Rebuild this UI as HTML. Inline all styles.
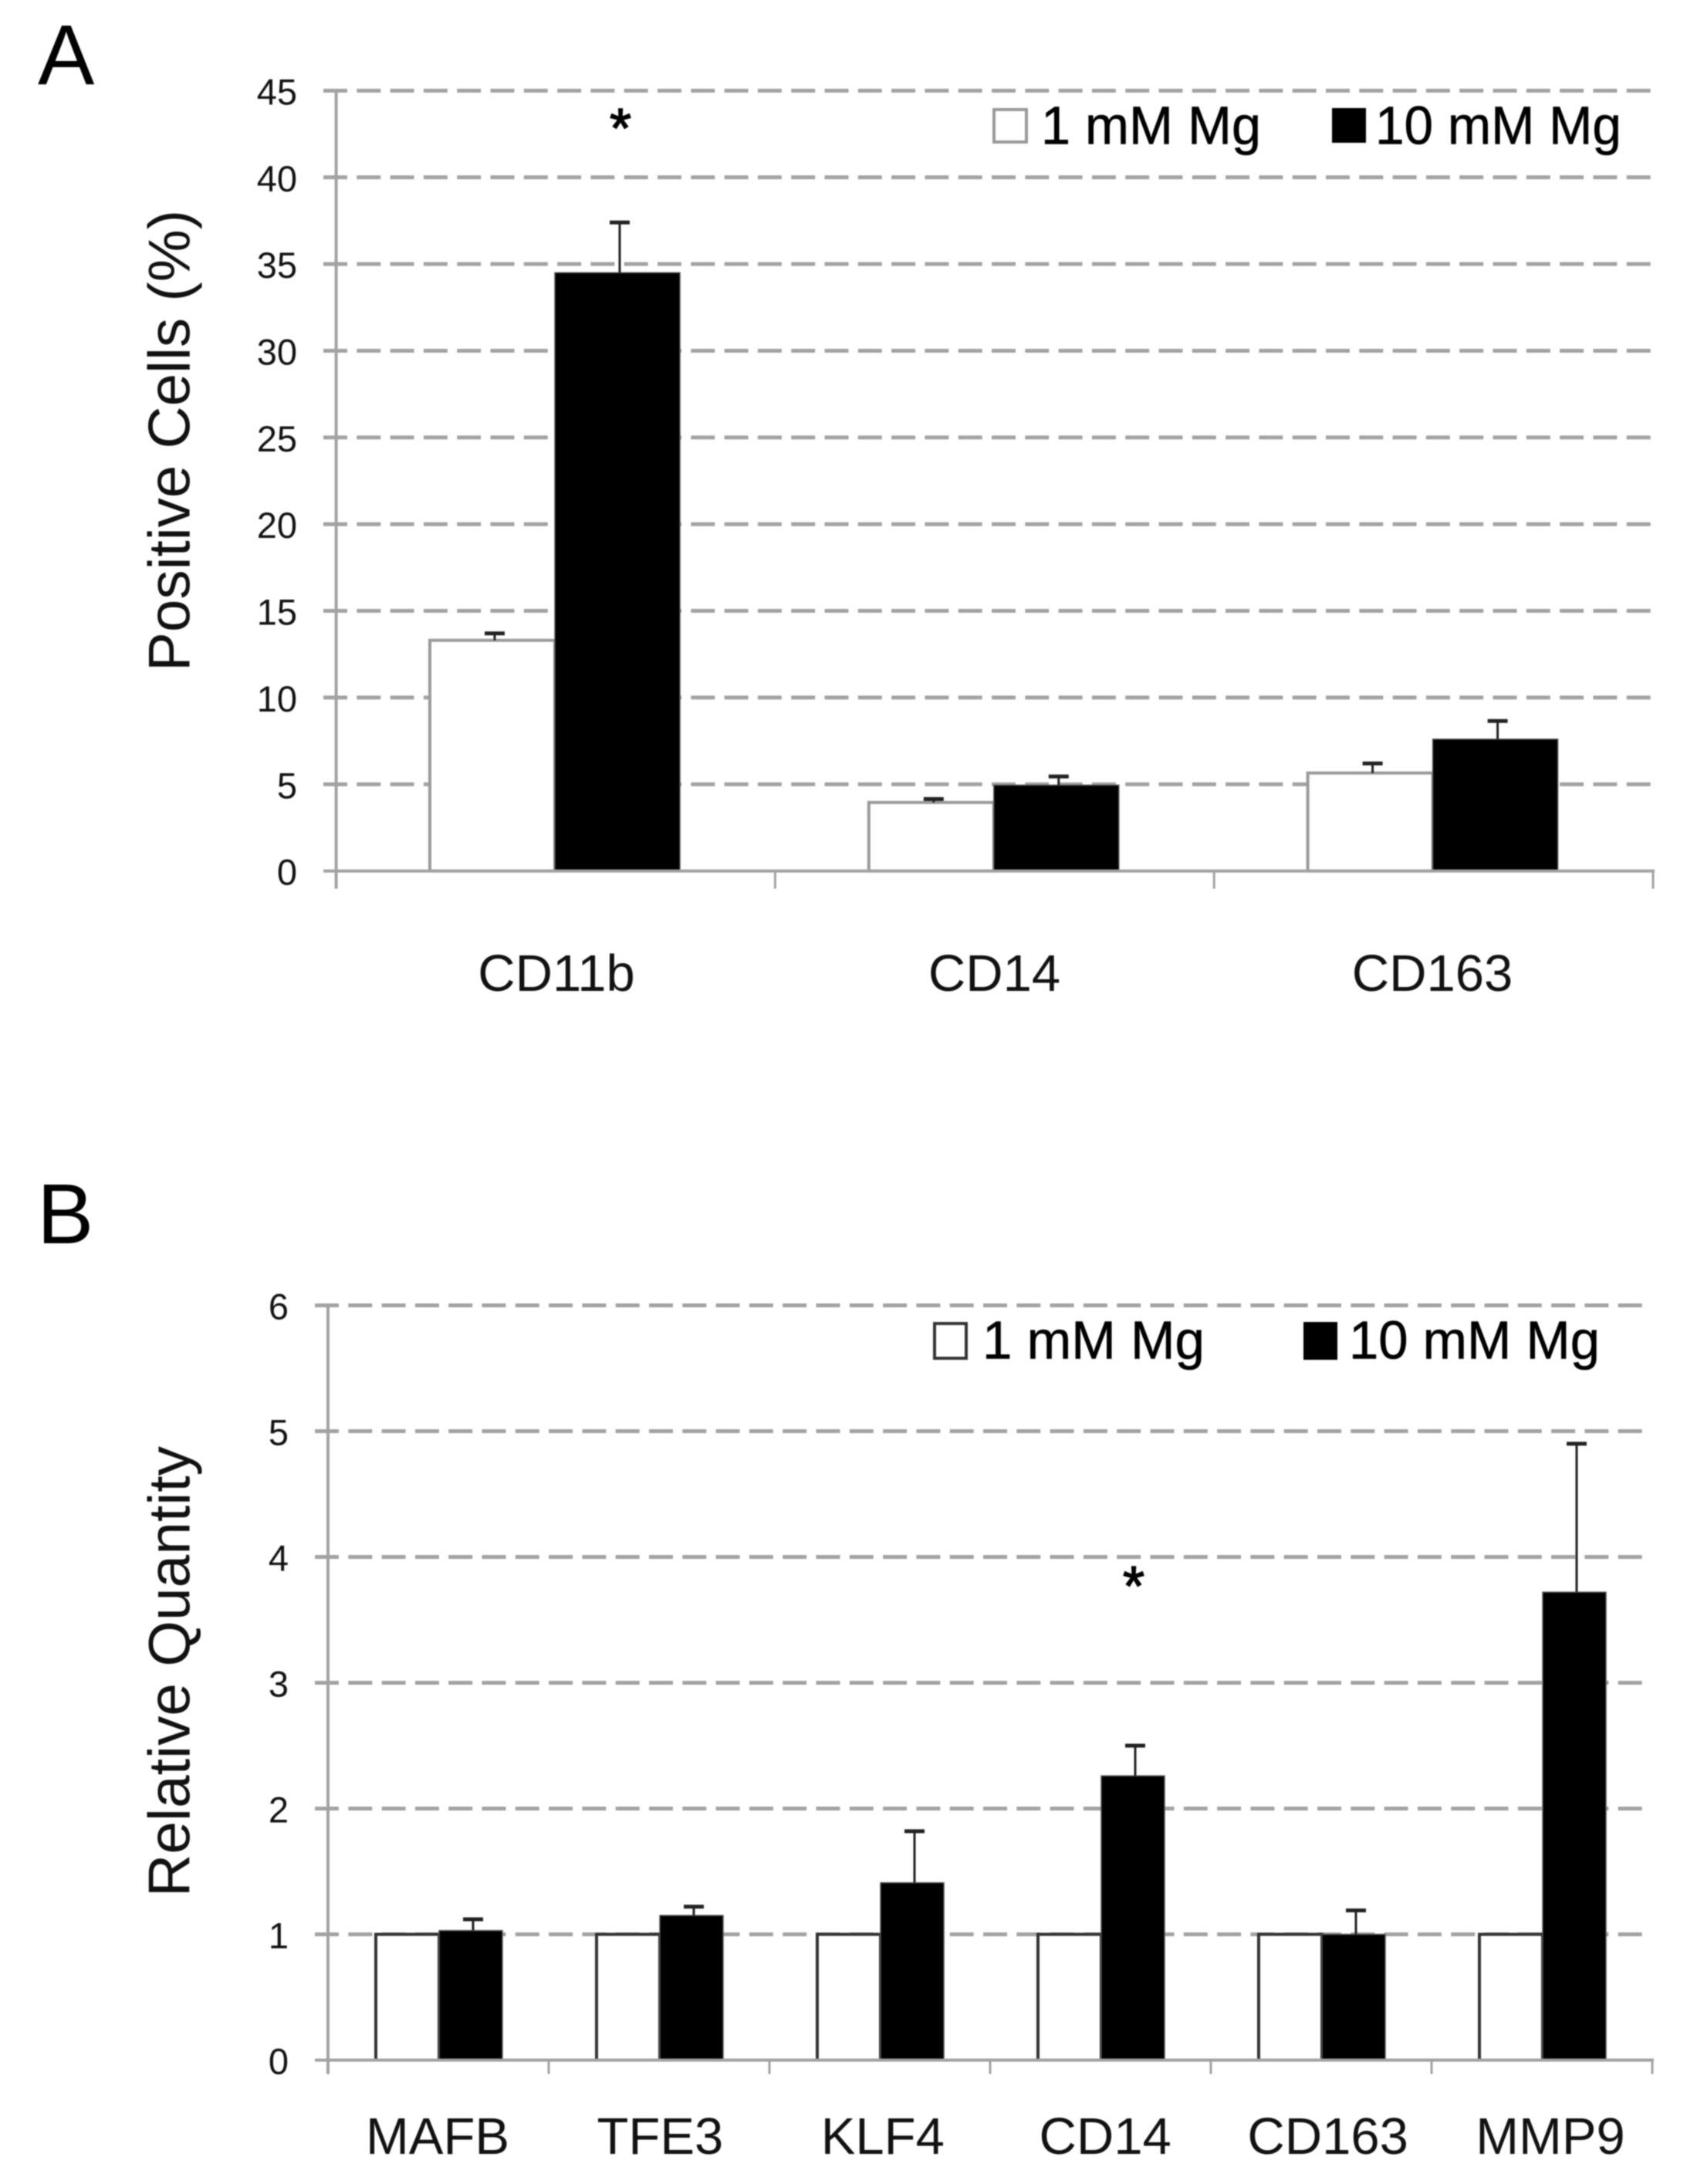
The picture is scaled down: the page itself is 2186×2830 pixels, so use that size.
<!DOCTYPE html>
<html lang="en">
<head>
<meta charset="utf-8">
<title>Positive cells and relative quantity at 1 mM and 10 mM Mg</title>
<style>
html,body{margin:0;padding:0;background:#fff;}
svg{display:block;font-family:"Liberation Sans",Arial,sans-serif;filter:blur(0.8px);}
</style>
</head>
<body>
<svg id="figure" xmlns="http://www.w3.org/2000/svg" width="2186" height="2830" viewBox="0 0 2186 2830">
  <rect width="2186" height="2830" fill="#fff"/>
  <g id="chart-a"></g>
  <g id="chart-b"></g>

  <text x="49" y="109" font-size="110" fill="#000">A</text>
  <text transform="translate(245.5 870) rotate(-90)" font-size="76" fill="#111" textLength="598" lengthAdjust="spacingAndGlyphs">Positive Cells (%)</text>
  <text x="804" y="191" font-size="72" fill="#000" stroke="#000" stroke-width="1.5" text-anchor="middle">*</text>
  <rect x="1288" y="142" width="42" height="42" fill="#fff" stroke="#999" stroke-width="4"/>
  <text x="1349" y="186.5" font-size="70" fill="#000" stroke="#000" stroke-width="0.6" textLength="285" lengthAdjust="spacingAndGlyphs">1 mM Mg</text>
  <rect x="1726" y="140" width="44" height="45" fill="#000"/>
  <text x="1782" y="186.5" font-size="70" fill="#000" stroke="#000" stroke-width="0.6" textLength="319" lengthAdjust="spacingAndGlyphs">10 mM Mg</text>

  <text x="48" y="1611" font-size="110" fill="#000">B</text>
  <text transform="translate(245.5 2458) rotate(-90)" font-size="76" fill="#111" textLength="584" lengthAdjust="spacingAndGlyphs">Relative Quantity</text>
  <text x="1469" y="2080" font-size="72" fill="#000" stroke="#000" stroke-width="1.5" text-anchor="middle">*</text>
  <rect x="1211" y="1715" width="41" height="45" fill="#fff" stroke="#333" stroke-width="4"/>
  <text x="1273" y="1760.5" font-size="70" fill="#000" stroke="#000" stroke-width="0.6" textLength="288" lengthAdjust="spacingAndGlyphs">1 mM Mg</text>
  <rect x="1689" y="1713" width="44" height="49" fill="#000"/>
  <text x="1748" y="1760.5" font-size="70" fill="#000" stroke="#000" stroke-width="0.6" textLength="325" lengthAdjust="spacingAndGlyphs">10 mM Mg</text>
</svg>

<script>
/* Panel A values */
const aCategories = ['CD11b', 'CD14', 'CD163'];
const aLowValues = [13.3, 3.95, 5.65];
const aHighValues = [34.5, 4.95, 7.6];
const aLowErrors = [0.4, 0.2, 0.55];
const aHighErrors = [2.9, 0.5, 1.05];
const aTickValues = [0, 5, 10, 15, 20, 25, 30, 35, 40, 45];

/* Panel B values */
const bCategories = ['MAFB', 'TFE3', 'KLF4', 'CD14', 'CD163', 'MMP9'];
const bLowValues = [1, 1, 1, 1, 1, 1];
const bHighValues = [1.03, 1.15, 1.41, 2.26, 1, 3.72];
const bLowErrors = [0, 0, 0, 0, 0, 0];
const bHighErrors = [0.09, 0.07, 0.41, 0.24, 0.19, 1.18];
const bTickValues = [0, 1, 2, 3, 4, 5, 6];

const SVG_NS = 'http://www.w3.org/2000/svg';

function makeShape(parent, tag, attrs) {
  const el = document.createElementNS(SVG_NS, tag);
  for (const key in attrs) {
    el.setAttribute(key, attrs[key]);
  }
  parent.appendChild(el);
  return el;
}

function drawPanel(cfg) {
  const root = document.getElementById(cfg.rootId);
  const yPos = function (v) { return cfg.yZero - v * cfg.yPerUnit; };
  const band = (cfg.axisRight - cfg.axisX) / cfg.categories.length;
  const centerX = function (i) { return cfg.axisX + band * (i + 0.5) + cfg.barShift; };
  const labelX = function (i) { return cfg.labelStart + cfg.labelStep * i; };

  cfg.ticks.forEach(function (t) {
    const grid = makeShape(root, 'line', {
      x1: cfg.gridLeft, x2: cfg.gridRight, y1: yPos(t), y2: yPos(t),
      stroke: '#a2a2a2', 'stroke-width': t === 0 ? 0 : 5, 'stroke-dasharray': '31 12.3'
    });
    
    

    const label = makeShape(root, 'text', {
      x: cfg.tickLabelRight, y: yPos(t) + 18, 'font-size': 47, fill: '#111', 'text-anchor': 'end'
    });
    label.textContent = String(t);
    
    
  });

  cfg.categories.forEach(function (name, i) {
    const c = centerX(i);
    const low = makeShape(root, 'rect', {
      x: c - cfg.barWidth, y: yPos(cfg.low[i]), width: cfg.barWidth, height: cfg.yZero - yPos(cfg.low[i]),
      fill: '#fff', stroke: cfg.lowStroke, 'stroke-width': 4
    });
    
    

    const high = makeShape(root, 'rect', {
      x: c, y: yPos(cfg.high[i]), width: cfg.barWidth, height: cfg.yZero - yPos(cfg.high[i]),
      fill: '#000', stroke: '#555', 'stroke-width': 1.5
    });
    
    

    [[c - cfg.barWidth / 2, cfg.low[i], cfg.lowErr[i], 'error-bar-1mm-'],
     [c + cfg.barWidth / 2, cfg.high[i], cfg.highErr[i], 'error-bar-10mm-']].forEach(function (e) {
      if (e[2] <= 0) { return; }
      const ex = e[0] + 3;
      const top = yPos(e[1] + e[2]);
      const stem = makeShape(root, 'line', {
        x1: ex, x2: ex, y1: yPos(e[1]), y2: top, stroke: '#222', 'stroke-width': 3
      });
      
      

      const cap = makeShape(root, 'line', {
        x1: ex - 13, x2: ex + 13, y1: top, y2: top, stroke: '#222', 'stroke-width': 5
      });
      
      
    });

    const catLabel = makeShape(root, 'text', {
      x: labelX(i), y: cfg.labelY, 'font-size': 67, fill: '#111', 'text-anchor': 'middle'
    });
    catLabel.textContent = name;
    
    
  });

  const yAxis = makeShape(root, 'line', {
    x1: cfg.axisX, x2: cfg.axisX, y1: yPos(cfg.ticks[cfg.ticks.length - 1]), y2: cfg.yZero + cfg.tickLen,
    stroke: '#a2a2a2', 'stroke-width': 4
  });
  
  

  const xAxis = makeShape(root, 'line', {
    x1: cfg.gridLeft, x2: cfg.axisRight + 2, y1: cfg.yZero, y2: cfg.yZero,
    stroke: '#a2a2a2', 'stroke-width': 4
  });
  
  

  for (let i = 1; i <= cfg.categories.length; i++) {
    const tx = cfg.axisX + band * i;
    const tick = makeShape(root, 'line', {
      x1: tx, x2: tx, y1: cfg.yZero, y2: cfg.yZero + cfg.tickLen, stroke: '#a2a2a2', 'stroke-width': 3
    });
    
    
  }
}

drawPanel({
  rootId: 'chart-a', categories: aCategories, low: aLowValues, high: aHighValues,
  lowErr: aLowErrors, highErr: aHighErrors, ticks: aTickValues,
  yZero: 1128.6, yPerUnit: 22.47, axisX: 435.6, axisRight: 2142, gridLeft: 419, gridRight: 2140,
  barWidth: 162, barShift: -1, lowStroke: '#9a9a9a', tickLen: 23, tickLabelRight: 385,
  labelStart: 721, labelStep: 567.5, labelY: 1284
});

drawPanel({
  rootId: 'chart-b', categories: bCategories, low: bLowValues, high: bHighValues,
  lowErr: bLowErrors, highErr: bHighErrors, ticks: bTickValues,
  yZero: 2669.5, yPerUnit: 163, axisX: 425, axisRight: 2141, gridLeft: 408, gridRight: 2139,
  barWidth: 82, barShift: 1, lowStroke: '#333', tickLen: 18, tickLabelRight: 374,
  labelStart: 567, labelStep: 288.4, labelY: 2791
});
</script>
</body>
</html>
